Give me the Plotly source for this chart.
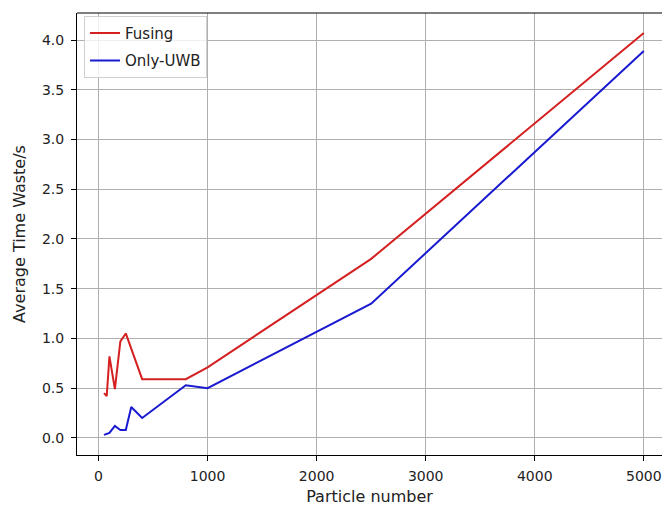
import plotly.graph_objects as go

fusing_x = [50, 75, 100, 150, 200, 250, 400, 800, 1000, 2500, 5000]
fusing_y = [0.45, 0.42, 0.82, 0.49, 0.97, 1.05, 0.59, 0.59, 0.71, 1.80, 4.07]

uwb_x = [50, 75, 100, 150, 200, 250, 300, 400, 800, 1000, 2500, 5000]
uwb_y = [0.03, 0.04, 0.05, 0.12, 0.08, 0.08, 0.31, 0.20, 0.53, 0.50, 1.35, 3.89]

x_ticks = [0, 1000, 2000, 3000, 4000, 5000]
y_ticks = [0.0, 0.5, 1.0, 1.5, 2.0, 2.5, 3.0, 3.5, 4.0]

fig = go.Figure()
fig.add_trace(go.Scatter(x=fusing_x, y=fusing_y, mode="lines", name="Fusing",
                         legendgroup="a", line=dict(color="#d42020", width=2)))
fig.add_trace(go.Scatter(x=uwb_x, y=uwb_y, mode="lines", name="Only-UWB",
                         legendgroup="b", line=dict(color="#1a1ad0", width=2)))

font = dict(family="DejaVu Sans", size=14, color="#222222")
fig.update_layout(
    width=662, height=506,
    margin=dict(l=77, r=0, t=13, b=51),
    paper_bgcolor="white", plot_bgcolor="white",
    font=font,
    showlegend=True,
    legend=dict(x=0.012, y=0.994, xanchor="left", yanchor="top",
                bgcolor="rgba(255,255,255,0.8)", bordercolor="#d0d0d0", borderwidth=1,
                tracegroupgap=5,
                font=dict(family="DejaVu Sans", size=15, color="#222222")),
    xaxis=dict(range=[-197.5, 5167], tickvals=x_ticks, ticktext=[str(v) for v in x_ticks],
               showgrid=True, gridcolor="#b0b0b0", gridwidth=1, zeroline=False,
               showline=True, linecolor="black", linewidth=1,
               ticks="outside", ticklen=5, tickcolor="black", ticklabelstandoff=3,
               title=dict(text="Particle number", standoff=10,
                          font=dict(family="DejaVu Sans", size=16, color="#222222"))),
    yaxis=dict(range=[-0.172, 4.272], tickvals=y_ticks, ticktext=[f"{v:.1f}" for v in y_ticks],
               showgrid=True, gridcolor="#b0b0b0", gridwidth=1, zeroline=False,
               showline=True, linecolor="black", linewidth=1,
               ticks="outside", ticklen=5, tickcolor="black", ticklabelstandoff=4,
               title=dict(text="Average Time Waste/s", standoff=12,
                          font=dict(family="DejaVu Sans", size=16, color="#222222"))),
    shapes=[dict(type="line", xref="paper", yref="paper", x0=0, x1=1, y0=1, y1=1,
                 line=dict(color="black", width=1))],
)

fig.write_html("out.html")
